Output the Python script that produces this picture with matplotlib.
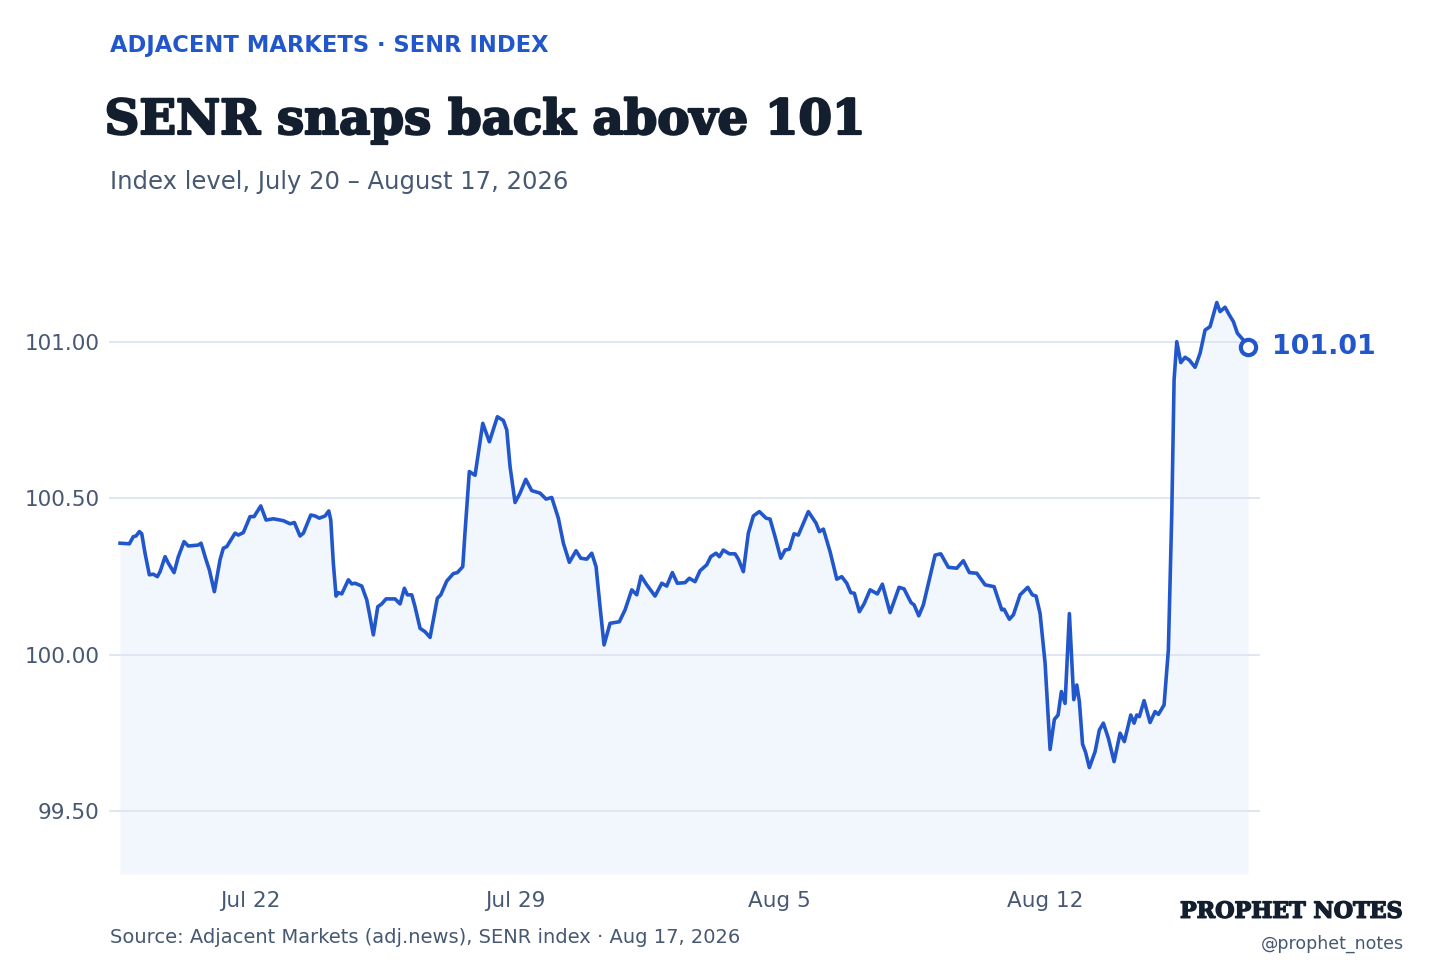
import numpy as np
import pandas as pd
import matplotlib
matplotlib.use('Agg')
import matplotlib.pyplot as plt
import matplotlib.dates as mdates
import matplotlib.patheffects as pe

# データ（7/22 0時からの経過日数と指数値）
base = pd.Timestamp('2026-07-22')
days = [
    -3.436, -3.190, -3.084, -3.013, -2.925, -2.862, -2.775, -2.661, -2.556, -2.450,
    -2.378, -2.246, -2.159, -2.008, -1.895, -1.744, -1.631, -1.366, -1.295, -1.163,
    -1.076, -0.943, -0.793, -0.706, -0.616, -0.396, -0.309, -0.177, 0.000, 0.106,
    0.283, 0.423, 0.616, 0.880, 1.057, 1.171, 1.321, 1.409, 1.604, 1.718,
    1.831, 1.982, 2.080, 2.133, 2.201, 2.273, 2.334, 2.423, 2.598, 2.688,
    2.775, 2.952, 3.084, 3.153, 3.258, 3.375, 3.480, 3.594, 3.832, 3.964,
    4.078, 4.157, 4.273, 4.360, 4.493, 4.625, 4.757, 4.844, 4.950, 5.040,
    5.198, 5.373, 5.478, 5.621, 5.682, 5.795, 5.946, 6.150, 6.324, 6.536,
    6.695, 6.784, 6.871, 7.003, 7.135, 7.286, 7.444, 7.664, 7.822, 7.973,
    8.147, 8.280, 8.438, 8.615, 8.739, 8.898, 9.030, 9.144, 9.249, 9.355,
    9.514, 9.759, 9.910, 10.087, 10.219, 10.333, 10.483, 10.703, 10.880, 11.012,
    11.160, 11.292, 11.496, 11.609, 11.760, 11.892, 12.069, 12.175, 12.315, 12.402,
    12.508, 12.667, 12.817, 12.904, 13.036, 13.168, 13.301, 13.459, 13.636, 13.742,
    13.874, 14.025, 14.138, 14.252, 14.376, 14.490, 14.754, 14.958, 15.045, 15.151,
    15.328, 15.505, 15.637, 15.769, 15.875, 15.970, 16.102, 16.226, 16.385, 16.578,
    16.710, 16.913, 17.151, 17.283, 17.468, 17.548, 17.672, 17.793, 17.970, 18.103,
    18.253, 18.454, 18.676, 18.850, 19.009, 19.205, 19.424, 19.662, 19.865, 19.926,
    20.066, 20.172, 20.349, 20.552, 20.674, 20.772, 20.877, 21.010, 21.142, 21.255,
    21.353, 21.441, 21.538, 21.652, 21.768, 21.848, 21.916, 22.000, 22.080, 22.180,
    22.331, 22.444, 22.550, 22.682, 22.833, 22.992, 23.105, 23.274, 23.362, 23.433,
    23.501, 23.626, 23.784, 23.917, 24.004, 24.154, 24.268, 24.358, 24.419, 24.490,
    24.596, 24.709, 24.823, 24.974, 25.106, 25.238, 25.370, 25.547, 25.634, 25.766,
    25.880, 25.986, 26.091, 26.250, 26.374,
]
values = [
    100.357, 100.355, 100.378, 100.380, 100.394, 100.387, 100.325, 100.256, 100.258, 100.250,
    100.266, 100.314, 100.293, 100.263, 100.314, 100.362, 100.348, 100.351, 100.357, 100.304,
    100.272, 100.202, 100.304, 100.341, 100.346, 100.389, 100.383, 100.391, 100.442, 100.442,
    100.476, 100.431, 100.435, 100.429, 100.419, 100.423, 100.380, 100.389, 100.447, 100.444,
    100.437, 100.444, 100.460, 100.431, 100.293, 100.188, 100.199, 100.195, 100.240, 100.227,
    100.229, 100.220, 100.176, 100.133, 100.064, 100.154, 100.163, 100.179, 100.179, 100.163,
    100.213, 100.192, 100.192, 100.154, 100.085, 100.074, 100.056, 100.112, 100.181, 100.192,
    100.236, 100.260, 100.263, 100.282, 100.394, 100.586, 100.574, 100.740, 100.681, 100.761,
    100.749, 100.719, 100.602, 100.487, 100.517, 100.561, 100.525, 100.517, 100.498, 100.503,
    100.437, 100.357, 100.296, 100.333, 100.309, 100.306, 100.325, 100.282, 100.154, 100.032,
    100.101, 100.106, 100.144, 100.208, 100.192, 100.252, 100.224, 100.188, 100.229, 100.220,
    100.263, 100.229, 100.231, 100.245, 100.234, 100.269, 100.288, 100.314, 100.325, 100.314,
    100.335, 100.323, 100.323, 100.306, 100.266, 100.389, 100.444, 100.458, 100.437, 100.434,
    100.378, 100.309, 100.335, 100.338, 100.387, 100.383, 100.458, 100.421, 100.394, 100.402,
    100.330, 100.242, 100.250, 100.229, 100.199, 100.197, 100.138, 100.163, 100.208, 100.195,
    100.226, 100.135, 100.216, 100.211, 100.167, 100.160, 100.125, 100.160, 100.250, 100.319,
    100.323, 100.280, 100.277, 100.301, 100.263, 100.261, 100.224, 100.218, 100.144, 100.146,
    100.114, 100.128, 100.192, 100.216, 100.192, 100.188, 100.133, 99.974, 99.698, 99.794,
    99.808, 99.883, 99.845, 100.132, 99.857, 99.904, 99.851, 99.715, 99.689, 99.640,
    99.691, 99.760, 99.782, 99.734, 99.659, 99.750, 99.723, 99.808, 99.782, 99.808,
    99.803, 99.854, 99.784, 99.819, 99.810, 99.840, 100.016, 100.453, 100.879, 101.001,
    100.934, 100.951, 100.942, 100.919, 100.964, 101.038, 101.049, 101.126, 101.097, 101.111,
    101.086, 101.065, 101.028, 101.006, 100.985,
]
last_label = '101.01'
yticks = [99.5, 100.0, 100.5, 101.0]
xtick_dates = ['2026-07-22', '2026-07-29', '2026-08-05', '2026-08-12']

dates = base + pd.to_timedelta(days, unit='D')

blue = '#2257cc'
navy = '#131f2e'
gray = '#475872'

fig = plt.figure(figsize=(14.56, 9.71), dpi=100)
ax = fig.add_axes([0.0749, 0.0999, 0.7905, 0.6124])

ax.fill_between(dates, values, 99.3, color='#f2f6fd', lw=0, zorder=1)
ax.plot(dates, values, color=blue, lw=2.6, solid_joinstyle='round', zorder=3)
ax.plot(dates[-1], values[-1], 'o', ms=11, mfc='white', mec=blue, mew=3, zorder=4)
ax.annotate(last_label, (dates[-1], values[-1]), xytext=(17, 0), textcoords='offset points',
            va='center', ha='left', fontsize=19.4, fontweight='bold', color=blue)

ax.set_ylim(99.3, 101.2)
ax.set_xlim(base + pd.Timedelta(days=-3.726), base + pd.Timedelta(days=26.69))
ax.set_yticks(yticks)
ax.set_yticklabels([f'{v:.2f}' for v in yticks])
ax.set_xticks(pd.to_datetime(xtick_dates))
ax.xaxis.set_major_formatter(mdates.DateFormatter('%b %-d'))
ax.grid(axis='y', color='#dde5f1', lw=1.3, zorder=0)
ax.tick_params(length=0, labelsize=15.5, labelcolor=gray, pad=7)
ax.tick_params(axis='x', pad=12)
for s in ax.spines.values():
    s.set_visible(False)

heavy = [pe.withStroke(linewidth=1.6, foreground=navy)]

fig.text(0.0755, 0.953, 'ADJACENT MARKETS · SENR INDEX', fontsize=16.3, fontweight='bold',
         color=blue, va='center')
fig.text(0.0718, 1 - 134 / 971, 'SENR snaps back above 101', fontsize=34.7, fontweight='bold',
         family='DejaVu Serif', color=navy, va='baseline', path_effects=heavy)
fig.text(0.0755, 0.813, 'Index level, July 20 – August 17, 2026', fontsize=17.5, color=gray,
         va='center')
fig.text(0.0755, 0.035, 'Source: Adjacent Markets (adj.news), SENR index · Aug 17, 2026',
         fontsize=14, color=gray, va='center')
fig.text(0.9635, 0.061, 'PROPHET NOTES', fontsize=16, fontweight='bold', family='DejaVu Serif',
         color=navy, ha='right', va='center', path_effects=[pe.withStroke(linewidth=1.0, foreground=navy)])
fig.text(0.964, 0.028, '@prophet_notes', fontsize=12.5, color=gray, ha='right', va='center')

fig.savefig('out.png', dpi=100)
